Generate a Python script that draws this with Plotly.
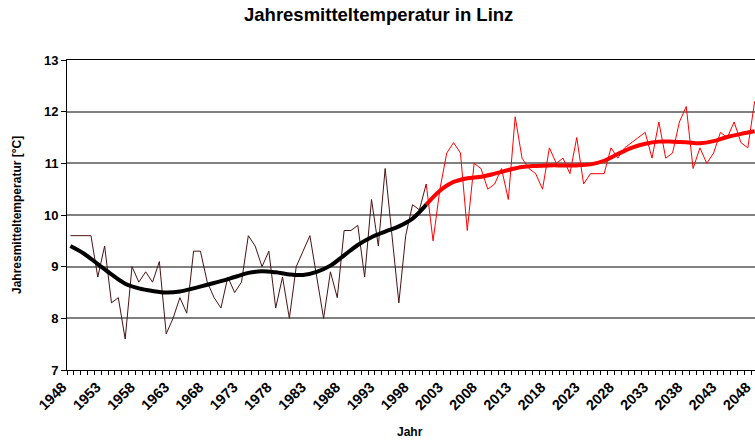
import plotly.graph_objects as go

# --- data ---
obs_start = 1948
obs_values = [9.6, 9.6, 9.6, 9.6, 8.8, 9.4, 8.3, 8.4, 7.6, 9.0,
              8.7, 8.9, 8.7, 9.1, 7.7, 8.0, 8.4, 8.1, 9.3, 9.3,
              8.7, 8.4, 8.2, 8.8, 8.5, 8.7, 9.6, 9.4, 9.0, 9.3,
              8.2, 8.8, 8.0, 9.0, 9.3, 9.6, 8.8, 8.0, 8.9, 8.4,
              9.7, 9.7, 9.8, 8.8, 10.3, 9.4, 10.9, 9.6, 8.3, 9.6,
              10.2, 10.1, 10.6]
obs_years = list(range(obs_start, obs_start + len(obs_values)))

proj_start = 2000
proj_values = [10.6, 9.5, 10.5, 11.2, 11.4, 11.2, 9.7, 11.0, 10.9, 10.5,
               10.6, 10.9, 10.3, 11.9, 11.1, 10.9, 10.8, 10.5, 11.3, 11.0,
               11.1, 10.8, 11.5, 10.6, 10.8, 10.8, 10.8, 11.3, 11.1, 11.3,
               11.4, 11.5, 11.6, 11.1, 11.8, 11.1, 11.2, 11.8, 12.1, 10.9,
               11.3, 11.0, 11.2, 11.6, 11.5, 11.8, 11.4, 11.3, 12.2]
proj_years = list(range(proj_start, proj_start + len(proj_values)))

obs_smooth_years = [1948, 1950, 1952, 1954, 1956, 1958, 1960, 1962, 1964, 1966,
                    1968, 1970, 1972, 1974, 1976, 1978, 1980, 1982, 1984, 1986,
                    1988, 1990, 1992, 1994, 1996, 1998, 2000]
obs_smooth_values = [9.40, 9.25, 9.05, 8.85, 8.67, 8.58, 8.53, 8.50, 8.52, 8.58,
                     8.65, 8.72, 8.80, 8.88, 8.91, 8.89, 8.85, 8.84, 8.90, 9.02,
                     9.22, 9.42, 9.57, 9.68, 9.78, 9.93, 10.20]

proj_smooth_years = [2000, 2002, 2004, 2006, 2008, 2010, 2012, 2014, 2016, 2018,
                     2020, 2022, 2024, 2026, 2028, 2030, 2032, 2034, 2036, 2038,
                     2040, 2042, 2044, 2046, 2048]
proj_smooth_values = [10.20, 10.47, 10.64, 10.71, 10.74, 10.80, 10.87, 10.93, 10.95, 10.96,
                      10.96, 10.96, 10.98, 11.05, 11.18, 11.30, 11.38, 11.42, 11.42, 11.41,
                      11.39, 11.43, 11.51, 11.57, 11.62]

x_tick_years = list(range(1948, 2049, 5))
y_ticks = [7, 8, 9, 10, 11, 12, 13]

FONT = "Liberation Sans, Arial, sans-serif"
L, R, T, B = 67, 0, 60, 71
W, H = 755, 441
PW, PH = W - L - R, H - T - B

fig = go.Figure()
fig.add_trace(go.Scatter(x=proj_years, y=proj_values, mode="lines",
                         line=dict(color="#ff0000", width=1), hoverinfo="skip"))
fig.add_trace(go.Scatter(x=obs_years, y=obs_values, mode="lines",
                         line=dict(color="#4a1212", width=1), hoverinfo="skip"))
fig.add_trace(go.Scatter(x=proj_smooth_years, y=proj_smooth_values, mode="lines",
                         line=dict(color="#ff0000", width=4, shape="spline"), hoverinfo="skip"))
fig.add_trace(go.Scatter(x=obs_smooth_years, y=obs_smooth_values, mode="lines",
                         line=dict(color="#000000", width=4, shape="spline"), hoverinfo="skip"))

fig.update_layout(
    width=W, height=H,
    margin=dict(l=L, r=R, t=T, b=B, autoexpand=False),
    paper_bgcolor="white", plot_bgcolor="white",
    showlegend=False,
    font=dict(family=FONT, color="black"),
)

fig.update_xaxes(
    automargin=False,
    range=[1947.5, 2048.05],
    tickmode="array", tickvals=x_tick_years,
    ticktext=[f"<b>{y}</b>" for y in x_tick_years],
    tickangle=-45, ticks="", ticklen=0,
    ticklabelshift=-8, ticklabelstandoff=2,
    ticklabeloverflow="allow",
    tickfont=dict(size=14.5, family=FONT),
    showgrid=False, zeroline=False,
    showline=True, linecolor="black", linewidth=1, mirror=True,
    minor=dict(tickmode="linear", tick0=1947.5, dtick=1, ticks="outside",
               ticklen=4, tickcolor="black", showgrid=False),
)
fig.update_yaxes(
    automargin=False,
    range=[7, 13], tickmode="array", tickvals=y_ticks,
    ticktext=[f"<b>{v}</b>" for v in y_ticks],
    ticks="outside", ticklen=5, tickcolor="black",
    tickfont=dict(size=13, family=FONT),
    showgrid=True, gridcolor="#808080", gridwidth=1.5,
    zeroline=False, showline=True, linecolor="black", linewidth=1,
)

fig.add_annotation(text="<b>Jahresmitteltemperatur in Linz</b>",
                   xref="paper", yref="paper", x=(378 - L) / PW, y=1 + (T - 15) / PH,
                   xanchor="center", yanchor="middle", showarrow=False,
                   font=dict(size=18.5, family=FONT))
fig.add_annotation(text="<b>Jahresmitteltemperatur [°C]</b>", textangle=-90,
                   xref="paper", yref="paper", x=(17 - L) / PW, y=0.5,
                   xanchor="center", yanchor="middle", showarrow=False,
                   font=dict(size=12, family=FONT))
fig.add_annotation(text="<b>Jahr</b>",
                   xref="paper", yref="paper", x=(410 - L) / PW, y=-(432 - (T + PH)) / PH,
                   xanchor="center", yanchor="middle", showarrow=False,
                   font=dict(size=12, family=FONT))

fig.write_html("out.html", config={"displayModeBar": False},
               post_script="document.body.style.margin='0';document.body.style.overflow='hidden';")
